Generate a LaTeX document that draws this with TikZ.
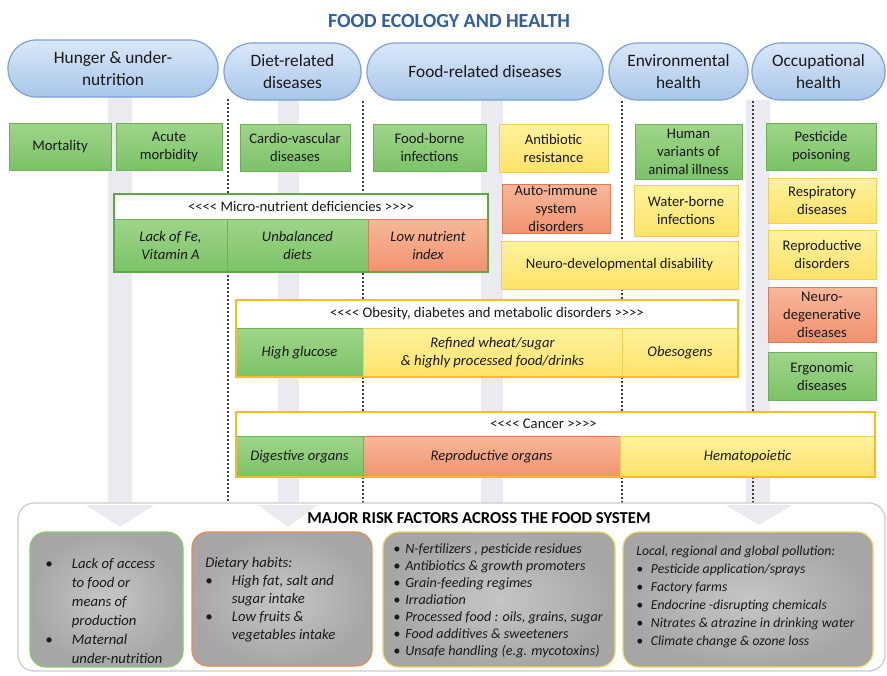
\documentclass[tikz,border=0pt]{standalone}
\usepackage{fontspec}
\setmainfont{Carlito}

\definecolor{titelblau}{RGB}{47,95,168}
\definecolor{pillrand}{RGB}{125,162,210}
\definecolor{pilloben}{RGB}{218,232,248}
\definecolor{pillunten}{RGB}{168,198,234}
\definecolor{gruenrand}{RGB}{108,176,90}
\definecolor{gruenoben}{RGB}{158,213,138}
\definecolor{gruenunten}{RGB}{124,194,104}
\definecolor{gelbrand}{RGB}{245,205,80}
\definecolor{gelboben}{RGB}{255,242,158}
\definecolor{gelbunten}{RGB}{253,226,105}
\definecolor{lachsrand}{RGB}{225,122,85}
\definecolor{lachsoben}{RGB}{248,184,154}
\definecolor{lachsunten}{RGB}{240,146,112}
\definecolor{rahmengruen}{RGB}{90,170,70}
\definecolor{rahmengold}{RGB}{245,190,30}
\definecolor{streifen}{RGB}{234,234,240}
\definecolor{punktlinie}{RGB}{60,60,70}
\definecolor{grauinnen}{RGB}{198,198,198}
\definecolor{grauaussen}{RGB}{166,166,166}
\definecolor{risikorand}{RGB}{205,205,205}
\definecolor{subgruen}{RGB}{140,200,110}
\definecolor{suborange}{RGB}{230,140,80}
\definecolor{subgelb}{RGB}{240,212,90}

% Aufzaehlungspunkt mit fester Breite
\newcommand{\pkt}[1]{\makebox[#1][l]{\textbullet}}

\begin{document}
\begin{tikzpicture}[x=0.75pt, y=-0.75pt,
    every node/.style={inner sep=0pt, align=center, text=black!90, font=\fontsize{11}{13.5}\selectfont},
    % Kasten ueber zwei Ecken (links/oben/rechts/unten)
    lage/.style args={#1/#2/#3/#4}{at={({(#1+#3)/2},{(#2+#4)/2})}, minimum width={(#3-#1)*0.75pt}, minimum height={(#4-#2)*0.75pt}},
    pill/.style={draw=pillrand, line width=0.9pt, rounded corners=21pt, top color=pilloben, bottom color=pillunten, font=\fontsize{13}{16}\selectfont},
    kasten/.style={line width=0.6pt},
    gruen/.style={kasten, draw=gruenrand, top color=gruenoben, bottom color=gruenunten},
    gelb/.style={kasten, draw=gelbrand, top color=gelboben, bottom color=gelbunten},
    lachs/.style={kasten, draw=lachsrand, top color=lachsoben, bottom color=lachsunten},
    zelle/.style={font=\itshape\fontsize{11}{13.5}\selectfont},
    kopf/.style={fill=white, font=\fontsize{11}{13}\selectfont},
    rahmen/.style={draw=#1, line width=1.8pt},
    risiko/.style={draw=#1, line width=0.9pt, rounded corners=12pt, inner color=grauinnen, outer color=grauaussen},
    risikotext/.style={anchor=north west, align=left},
    punkt/.style={draw=punktlinie, line width=1.5pt, dash pattern=on 1.6pt off 1.4pt}]

    % Hintergrund
    \fill[white] (0,0) rectangle (887,675);
    \useasboundingbox (0,0) rectangle (887,675);

    % graue Pfeile (Schaefte)
    \fill[streifen] (108,97) rectangle (132,503);
    \fill[streifen] (278,100) rectangle (299,503);
    \fill[streifen] (481,100) rectangle (503,503);
    \fill[streifen] (746,100) rectangle (770,503);

    % gepunktete Trennlinien
    \draw[punkt] (228,99) -- (228,503);
    \draw[punkt] (363,101) -- (363,503);
    \draw[punkt] (622,101) -- (622,503);
    \draw[punkt] (753,101) -- (753,503);

    % Titel
    \node[font=\bfseries\fontsize{15}{18}\selectfont, text=titelblau] (titel) at (449,21) {FOOD ECOLOGY AND HEALTH};

    % Kategorien
    \node[pill, lage=8/40/218/97] (hunger) {Hunger \& under-\\nutrition};
    \node[pill, lage=224/43/361/100] (diaet) {Diet-related\\diseases};
    \node[pill, lage=367/43/603/100] (lebensmittel) {Food-related diseases};
    \node[pill, lage=609/43/748/100] (umwelt) {Environmental\\health};
    \node[pill, lage=752/43/885/100] (beruf) {Occupational\\health};

    % erste Reihe
    \node[gruen, lage=9/123/111/170] (mortalitaet) {Mortality};
    \node[gruen, lage=116/123/222/170] (morbiditaet) {Acute\\morbidity};
    \node[gruen, lage=240/124/350/171] (kardio) {Cardio-vascular\\diseases};
    \node[gruen, lage=373/124/486/171] (infektion) {Food-borne\\infections};
    \node[gelb, lage=499/124/608/172] (antibiotika) {Antibiotic\\resistance};
    \node[gruen, lage=635/124/742/179] (tiervariante) {Human\\variants of\\animal illness};
    \node[gruen, lage=766/123/876/170] (pestizid) {Pesticide\\poisoning};

    % weitere Kaesten
    \node[lachs, lage=502/184/610/233] (autoimmun) {Auto-immune\\system\\disorders};
    \node[gelb, lage=634/185/738/236] (wasser) {Water-borne\\infections};
    \node[gelb, lage=501/241/738/289] (neuroentw) {Neuro-developmental disability};
    \node[gelb, lage=768/178/876/223] (atemwege) {Respiratory\\diseases};
    \node[gelb, lage=768/230/876/279] (fortpflanzung) {Reproductive\\disorders};
    \node[lachs, lage=768/287/876/342] (neurodegen) {Neuro-\\degenerative\\diseases};
    \node[gruen, lage=768/352/876/400] (ergonomie) {Ergonomic\\diseases};

    % Mikronaehrstoffe
    \node[kopf, lage=114/194/488/219] (mikrokopf) {{<}{<}{<}{<} Micro-nutrient deficiencies {>}{>}{>}{>}};
    \node[gruen, zelle, lage=114/219/227/272] (eisen) {Lack of Fe,\\Vitamin A};
    \node[gruen, zelle, lage=227/219/368/272] (unausgewogen) {Unbalanced\\diets};
    \node[lachs, zelle, lage=368/219/488/272] (naehrwert) {Low nutrient\\index};
    \node[rahmen=rahmengruen, lage=114/194/488/272] (mikro) {};

    % Adipositas
    \node[kopf, lage=236/300/738/328] (adipokopf) {{<}{<}{<}{<} Obesity, diabetes and metabolic disorders {>}{>}{>}{>}};
    \node[gruen, zelle, lage=236/328/363/377] (glukose) {High glucose};
    \node[gelb, zelle, lage=363/328/622/377] (raffiniert) {Refined wheat/sugar\\\& highly processed food/drinks};
    \node[gelb, zelle, lage=622/328/738/377] (obesogene) {Obesogens};
    \node[rahmen=rahmengold, lage=236/300/738/377] (adipo) {};

    % Krebs
    \node[kopf, lage=236/412/875/436] (krebskopf) {{<}{<}{<}{<} Cancer {>}{>}{>}{>}\hspace{18pt}};
    \node[gruen, zelle, lage=236/436/363/477] (verdauung) {Digestive organs};
    \node[lachs, zelle, lage=363/436/620/477] (geschlecht) {Reproductive organs};
    \node[gelb, zelle, lage=620/436/875/477] (blut) {Hematopoietic};
    \node[rahmen=rahmengold, lage=236/412/875/477] (krebs) {};

    % Risikofaktoren
    \node[draw=risikorand, line width=1pt, rounded corners=12pt, fill=white, lage=18/503/885/671] (risikofaktoren) {};
    \fill[streifen] (86,505) -- (154,505) -- (120,527) -- cycle;
    \fill[streifen] (258,505) -- (318,505) -- (288,527) -- cycle;
    \fill[streifen] (726,505) -- (792,505) -- (759,525) -- cycle;
    \node[font=\bfseries\fontsize{12.5}{15}\selectfont, text=black] (risikotitel) at (479,518) {MAJOR RISK FACTORS ACROSS THE FOOD SYSTEM};

    \node[risiko=subgruen, lage=30/532/183/667] (zugang) {};
    \node[risiko=suborange, lage=192/532/372/666] (gewohnheit) {};
    \node[risiko=subgelb, lage=383/532/615/667] (produktion) {};
    \node[risiko=subgelb, lage=623/532/873/667] (belastung) {};

    \node[risikotext, font=\itshape\fontsize{11}{14.25}\selectfont] (zugangtext) at (45,555) {%
      \begin{tabular}{@{}l@{}l@{}}
        \pkt{20pt} & Lack of access\\
                   & to food or\\
                   & means of\\
                   & production\\
        \pkt{20pt} & Maternal\\
                   & under-nutrition
      \end{tabular}};
    \node[risikotext, font=\itshape\fontsize{11}{13.5}\selectfont] (gewohnheittext) at (205,555) {%
      \begin{tabular}{@{}l@{}l@{}}
        \multicolumn{2}{@{}l@{}}{Dietary habits:}\\
        \pkt{20pt} & High fat, salt and\\
                   & sugar intake\\
        \pkt{20pt} & Low fruits \&\\
                   & vegetables intake
      \end{tabular}};
    \node[risikotext, font=\itshape\fontsize{10.6}{12.75}\selectfont] (produktiontext) at (393,541) {%
      \begin{tabular}{@{}l@{}l@{}}
        \pkt{9pt} & N-fertilizers , pesticide residues\\
        \pkt{9pt} & Antibiotics \& growth promoters\\
        \pkt{9pt} & Grain-feeding regimes\\
        \pkt{9pt} & Irradiation\\
        \pkt{9pt} & Processed food : oils, grains, sugar\\
        \pkt{9pt} & Food additives \& sweeteners\\
        \pkt{9pt} & Unsafe handling (e.g. mycotoxins)
      \end{tabular}};
    \node[risikotext, font=\itshape\fontsize{10.3}{13.5}\selectfont] (belastungtext) at (636,543) {%
      \begin{tabular}{@{}l@{}l@{}}
        \multicolumn{2}{@{}l@{}}{Local, regional and global pollution:}\\
        \pkt{11pt} & Pesticide application/sprays\\
        \pkt{11pt} & Factory farms\\
        \pkt{11pt} & Endocrine -disrupting chemicals\\
        \pkt{11pt} & Nitrates \& atrazine in drinking water\\
        \pkt{11pt} & Climate change \& ozone loss
      \end{tabular}};
\end{tikzpicture}
\end{document}
